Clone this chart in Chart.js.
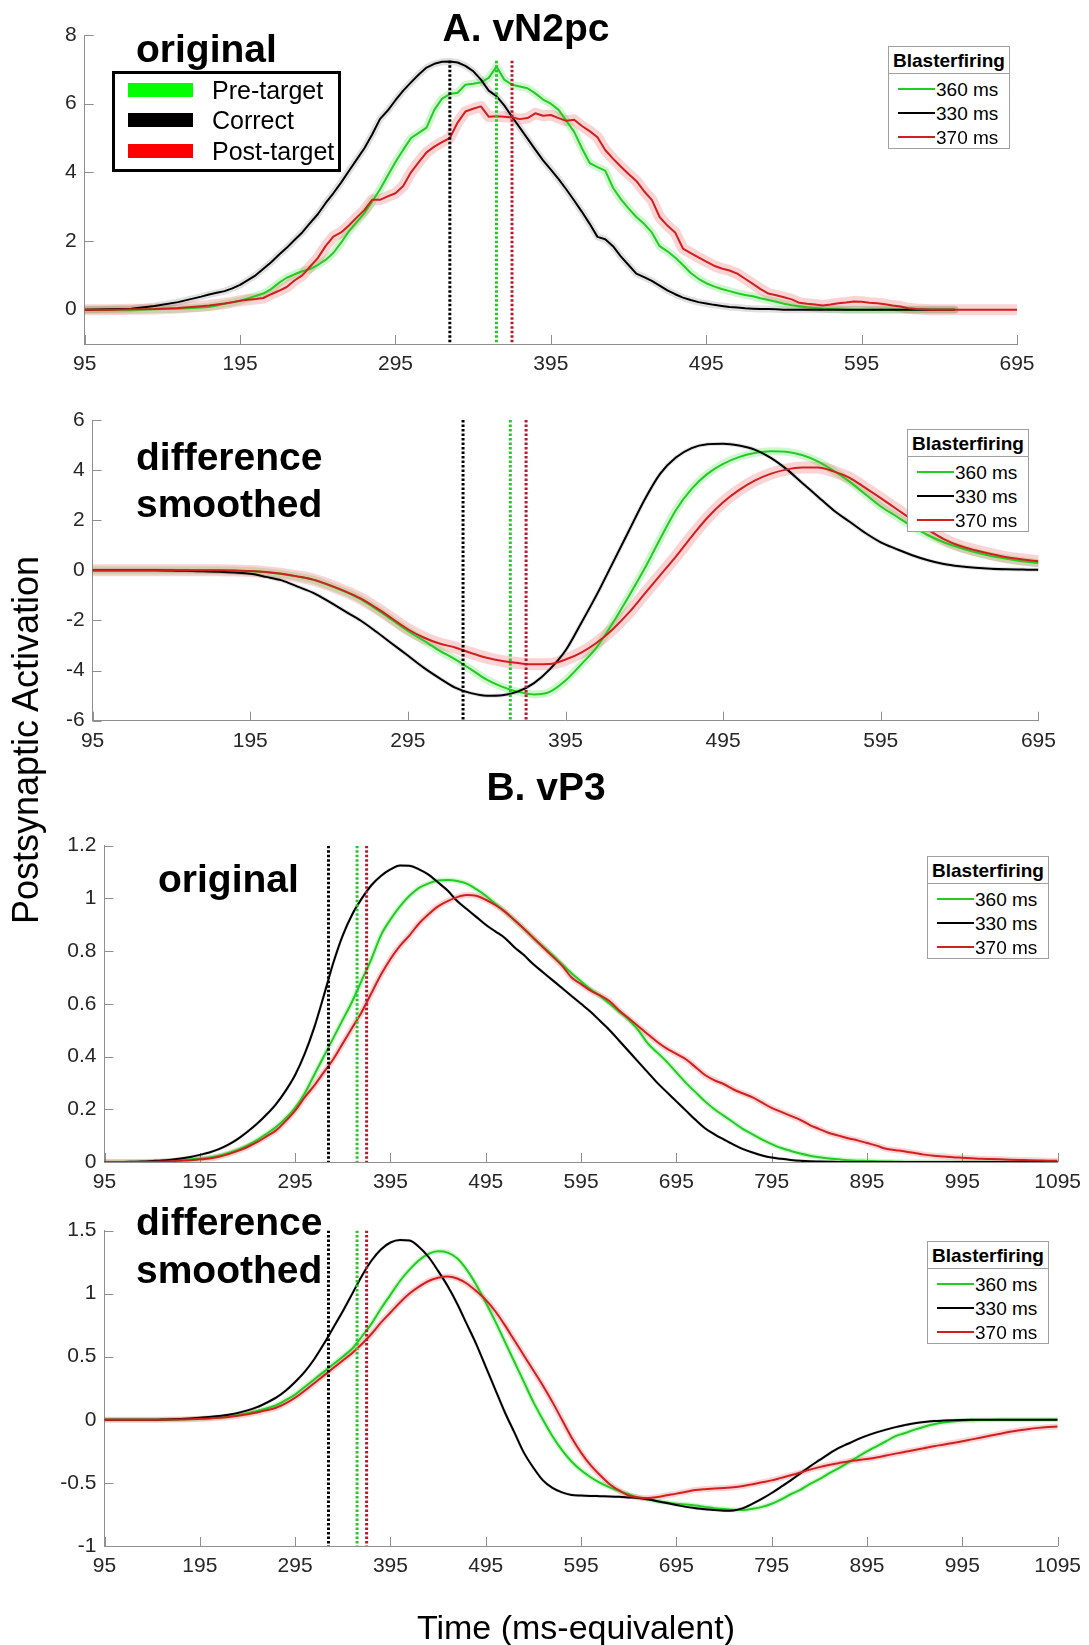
<!DOCTYPE html>
<html>
<head>
<meta charset="utf-8">
<script src="https://cdn.jsdelivr.net/npm/chart.js@4.4.1/dist/chart.umd.min.js"></script>
<style>
html,body{margin:0;padding:0;background:#fff;}
#wrap{position:relative;width:1089px;height:1645px;overflow:hidden;font-family:'Liberation Sans',Arial,sans-serif;color:#000;background:#fff;}
canvas{position:absolute;left:0;top:0;}
.txt{position:absolute;white-space:nowrap;line-height:1;}
.big{font-size:39px;font-weight:bold;}
.title{font-size:39px;font-weight:bold;text-align:center;width:400px;}
.bl{position:absolute;width:122px;height:103px;box-sizing:border-box;border:1px solid #a0a0a0;background:#fff;}
.bl .hd{position:absolute;left:0;top:0;width:120px;height:26px;border-bottom:1px solid #a0a0a0;font-weight:bold;font-size:19px;line-height:28px;text-align:center;}
.bl .row{position:absolute;left:0;width:120px;height:24px;font-size:19px;line-height:24px;}
.bl .row i{position:absolute;left:9px;top:11px;width:37px;height:2px;}
.bl .row span{position:absolute;left:47px;top:1px;}
.ol{position:absolute;left:112px;top:71px;width:229px;height:101px;box-sizing:border-box;border:3px solid #000;background:#fff;}
.ol .row{position:absolute;left:0;width:300px;height:30px;font-size:25px;line-height:30px;}
.ol .row i{position:absolute;left:13px;top:8px;width:65px;height:14px;}
.ol .row span{position:absolute;left:97px;top:0;}
</style>
</head>
<body>
<div id="wrap">
<canvas id="cA1" width="1089" height="1645"></canvas>
<canvas id="cA2" width="1089" height="1645"></canvas>
<canvas id="cB1" width="1089" height="1645"></canvas>
<canvas id="cB2" width="1089" height="1645"></canvas>

<div class="txt title" style="left:326px;top:8px;">A. vN2pc</div>
<div class="txt title" style="left:346px;top:767px;">B. vP3</div>
<div class="txt big" style="left:136px;top:29px;">original</div>
<div class="txt big" style="left:136px;top:437px;">difference</div>
<div class="txt big" style="left:136px;top:484px;">smoothed</div>
<div class="txt big" style="left:158px;top:859px;">original</div>
<div class="txt big" style="left:136px;top:1202px;">difference</div>
<div class="txt big" style="left:136px;top:1250px;">smoothed</div>
<div class="txt" style="left:376px;top:1610px;width:400px;text-align:center;font-size:34px;">Time (ms-equivalent)</div>
<div class="txt" style="left:-224px;top:722px;width:500px;height:36px;text-align:center;font-size:36px;line-height:36px;transform:rotate(-90deg);">Postsynaptic Activation</div>
<div id="legends"></div>
</div>

<script>
// ---------------- DATA ----------------
const markerTimes = [360, 330, 370];           // Blaster firing: green, black, red
const seriesLabels = ['360 ms', '330 ms', '370 ms'];
const conditionLabels = ['Pre-target', 'Correct', 'Post-target'];
const legendTitle = 'Blasterfiring';

const xTicksA = [95, 195, 295, 395, 495, 595, 695];
const xTicksB = [95, 195, 295, 395, 495, 595, 695, 795, 895, 995, 1095];
const yTicksA1 = [0, 2, 4, 6, 8];
const yTicksA2 = [-6, -4, -2, 0, 2, 4, 6];
const yTicksB1 = [0, 0.2, 0.4, 0.6, 0.8, 1, 1.2];
const yTicksB2 = [-1, -0.5, 0, 0.5, 1, 1.5];

// A. vN2pc original
const tA1 = [95,110,125,140,155,170,175,180,185,190,195,200,205,210,215,220,225,230,235,240,245,250,255,260,265,270,275,280,285,290,295,300,305,310,315,320,325,330,335,340,345,350,355,360,365,370,375,380,385,390,395,400,405,410,415,420,425,430,435,440,445,450,455,460,465,470,475,480,485,490,495,500,505,510,515,520,525,530,535,540,545,550,555,560,565,570,575,580,585,590,595,600,605,610,615,620,625,630,640,655,670,695];
const a1Green = [0,0,0,0.01,0.03,
0.06,0.08,0.12,0.17,0.21,0.26,0.33,0.4,0.47,0.6,0.78,0.93,1.03,1.12,1.18,1.3,1.45,1.65,1.95,2.28,2.55,2.81,3.15,3.5,3.9,4.3,4.66,5.0,5.15,5.3,5.82,6.15,6.28,6.32,6.55,6.58,6.62,6.75,7.08,6.7,6.55,6.5,6.45,6.3,6.12,6.0,5.82,5.5,5.18,4.7,4.27,4.15,4.05,3.55,3.22,2.95,2.7,2.5,2.25,1.85,1.7,1.52,1.3,1.07,0.9,0.77,0.68,0.6,0.54,0.48,0.43,0.39,0.33,0.28,0.23,0.17,0.13,0.1,0.07,0.05,0.03,0.02,0.01,0,0,0,0,0,0,0,0,0,0,
0,0,null,null];
const a1Black = [0,0.01,0.03,0.11,0.22,
0.38,0.44,0.49,0.54,0.62,0.72,0.86,1.0,1.19,1.38,1.6,1.8,2.03,2.25,2.52,2.78,3.1,3.39,3.7,4.04,4.37,4.7,5.1,5.55,5.8,6.1,6.38,6.62,6.85,7.05,7.16,7.22,7.23,7.2,7.1,6.95,6.7,6.38,6.22,5.95,5.62,5.3,4.98,4.66,4.35,4.08,3.8,3.5,3.18,2.85,2.5,2.12,2.05,1.85,1.55,1.3,1.05,0.95,0.84,0.7,0.56,0.45,0.35,0.28,0.22,0.18,0.14,0.11,0.08,0.06,0.04,0.03,0.02,0.02,0.01,0,0,0,0,0,0,0,0,0,0,0,0,0,0,0,0,0,0,
0,0,null,null];
const a1Red = [0,0,0.01,0.02,0.05,
0.1,0.12,0.15,0.18,0.22,0.26,0.29,0.31,0.34,0.45,0.55,0.66,0.85,1.0,1.25,1.5,1.85,2.13,2.25,2.45,2.68,2.9,3.2,3.2,3.3,3.39,3.6,4.0,4.3,4.58,4.75,4.88,5.0,5.45,5.77,5.85,5.92,5.62,5.63,5.62,5.6,5.55,5.58,5.72,5.65,5.67,5.58,5.5,5.53,5.35,5.2,5.02,4.65,4.4,4.17,3.95,3.75,3.45,3.2,2.7,2.45,2.25,1.78,1.65,1.52,1.4,1.28,1.2,1.14,1.05,0.9,0.75,0.6,0.47,0.42,0.36,0.3,0.2,0.17,0.15,0.12,0.15,0.19,0.21,0.24,0.23,0.2,0.19,0.16,0.12,0.09,0.04,0.02,
0,0,0,0];

// A. vN2pc difference smoothed
const tA2 = [95,105,115,125,135,145,155,165,175,185,195,205,215,225,235,245,255,265,275,285,295,305,315,325,335,345,355,365,375,385,395,405,415,425,435,445,455,465,475,485,495,505,515,525,535,545,555,565,575,585,595,605,615,625,635,645,655,665,675,685,695];
const a2Green = [0,0,0,0,0,0,0,0,0,-0.01,
-0.03,-0.08,-0.15,-0.25,-0.38,-0.6,-0.85,-1.15,-1.55,-1.98,
-2.42,-2.8,-3.2,-3.55,-3.95,-4.36,-4.65,-4.85,-4.95,-4.85,
-4.4,-3.75,-3.05,-2.1,-1.05,0.05,1.25,2.4,3.25,3.85,
4.25,4.52,4.68,4.75,4.73,4.6,4.35,3.98,3.55,3.05,
2.55,2.15,1.75,1.4,1.12,0.9,0.72,0.57,0.46,0.36,
0.29];
const a2Black = [0,0,0,0,0,-0.01,-0.02,-0.04,-0.06,-0.09,
-0.14,-0.26,-0.4,-0.65,-0.9,-1.25,-1.63,-2.0,-2.45,-2.93,
-3.4,-3.88,-4.3,-4.68,-4.9,-5.0,-4.98,-4.83,-4.5,-3.95,
-3.2,-2.1,-0.95,0.3,1.55,2.8,3.85,4.5,4.88,5.03,
5.05,4.98,4.82,4.5,4.05,3.5,2.95,2.4,1.95,1.5,
1.12,0.85,0.6,0.4,0.25,0.16,0.1,0.06,0.04,0.03,
0.02];
const a2Red = [0,0,0,0,0,0,0,0,0,-0.01,
-0.03,-0.07,-0.14,-0.24,-0.37,-0.58,-0.83,-1.12,-1.5,-1.92,
-2.35,-2.68,-2.92,-3.08,-3.3,-3.49,-3.62,-3.7,-3.75,-3.74,
-3.56,-3.28,-2.88,-2.35,-1.7,-0.95,-0.2,0.55,1.35,2.1,
2.72,3.2,3.58,3.85,4.02,4.1,4.1,3.95,3.7,3.3,
2.88,2.45,2.02,1.62,1.25,0.98,0.8,0.65,0.52,0.43,
0.36];

// B. vP3 (both panels)
const tB = [95,105,115,125,135,145,155,165,175,185,
195,205,215,225,235,245,255,265,275,285,
295,305,315,325,335,345,355,365,375,385,
395,405,415,425,435,445,455,465,475,485,
495,505,515,525,535,545,555,565,575,585,
595,605,615,625,635,645,655,665,675,685,
695,705,715,725,735,745,755,765,775,785,
795,805,815,825,835,845,855,865,875,885,
895,905,915,925,935,945,955,965,975,985,
995,1005,1015,1025,1035,1045,1055,1065,1075,1085,
1095];
const b1Green = [0,0,0,0,0.001,0.002,0.003,0.005,0.007,0.01,
0.013,0.017,0.024,0.034,0.047,0.063,0.083,0.107,0.133,0.165,
0.205,0.26,0.33,0.4,0.47,0.54,0.61,0.69,0.77,0.86,
0.92,0.97,1.01,1.04,1.057,1.068,1.07,1.066,1.056,1.035,
1.01,0.98,0.95,0.918,0.885,0.85,0.818,0.785,0.75,0.716,
0.685,0.655,0.63,0.6,0.57,0.54,0.5,0.45,0.415,0.38,
0.34,0.3,0.265,0.23,0.2,0.175,0.15,0.125,0.105,0.085,
0.068,0.053,0.042,0.032,0.024,0.018,0.013,0.01,0.007,0.005,
0.004,0.003,0.002,0.001,0,0,0,0,0,0,
0,0,0,0,0,0,0,0,0,0,
0];
const b1Black = [0,0,0,0.001,0.002,0.004,0.006,0.009,0.013,0.019,
0.027,0.036,0.049,0.066,0.088,0.115,0.145,0.18,0.22,0.27,
0.33,0.41,0.51,0.63,0.755,0.86,0.94,1.0,1.05,1.085,
1.11,1.125,1.124,1.11,1.09,1.06,1.03,0.99,0.96,0.93,
0.9,0.875,0.85,0.815,0.785,0.75,0.72,0.69,0.66,0.63,
0.6,0.57,0.535,0.5,0.46,0.42,0.38,0.34,0.3,0.265,
0.23,0.195,0.16,0.128,0.105,0.085,0.066,0.049,0.036,0.025,
0.017,0.012,0.008,0.005,0.003,0.002,0.001,0,0,0,
0,0,0,0,0,0,0,0,0,0,
0,0,0,0,0,0,0,0,0,0,
0];
const b1Red = [0,0,0,0,0,0.001,0.002,0.003,0.005,0.007,
0.01,0.013,0.02,0.03,0.042,0.057,0.075,0.097,0.12,0.155,
0.195,0.245,0.29,0.34,0.39,0.45,0.51,0.57,0.64,0.71,
0.77,0.82,0.86,0.905,0.94,0.97,0.99,1.005,1.013,1.01,
0.995,0.975,0.95,0.918,0.885,0.85,0.815,0.78,0.745,0.7,
0.675,0.65,0.632,0.61,0.575,0.545,0.515,0.485,0.455,0.43,
0.41,0.39,0.36,0.33,0.31,0.295,0.275,0.26,0.245,0.225,
0.205,0.19,0.175,0.16,0.14,0.125,0.11,0.1,0.09,0.082,
0.072,0.062,0.05,0.045,0.04,0.034,0.028,0.024,0.021,0.018,
0.016,0.014,0.012,0.011,0.01,0.009,0.008,0.007,0.006,0.005,
0.005];
const b2Green = [0,0,0,0,0,0,0,0.002,0.004,0.006,
0.009,0.013,0.019,0.027,0.038,0.052,0.07,0.09,0.115,0.155,
0.2,0.26,0.32,0.38,0.44,0.5,0.565,0.66,0.76,0.88,
0.99,1.1,1.19,1.265,1.315,1.335,1.325,1.28,1.19,1.07,
0.93,0.78,0.62,0.46,0.3,0.14,0.0,-0.13,-0.24,-0.33,
-0.4,-0.455,-0.5,-0.535,-0.565,-0.59,-0.615,-0.632,-0.645,-0.655,
-0.665,-0.672,-0.68,-0.69,-0.7,-0.707,-0.712,-0.714,-0.705,-0.69,
-0.665,-0.63,-0.59,-0.555,-0.51,-0.47,-0.425,-0.385,-0.34,-0.295,
-0.25,-0.21,-0.17,-0.13,-0.105,-0.078,-0.055,-0.036,-0.022,-0.013,
-0.007,-0.004,-0.002,-0.001,0,0,0,0,0,0,
0];
const b2Black = [0,0,0,0,0,0,0.002,0.004,0.007,0.011,
0.016,0.022,0.03,0.04,0.055,0.075,0.1,0.135,0.175,0.23,
0.3,0.38,0.48,0.6,0.73,0.86,1.0,1.14,1.26,1.35,
1.405,1.425,1.42,1.37,1.29,1.18,1.06,0.92,0.76,0.6,
0.42,0.24,0.06,-0.1,-0.26,-0.38,-0.48,-0.54,-0.575,-0.595,
-0.6,-0.603,-0.605,-0.607,-0.61,-0.615,-0.62,-0.63,-0.645,-0.66,
-0.675,-0.69,-0.7,-0.708,-0.714,-0.72,-0.718,-0.7,-0.665,-0.625,
-0.58,-0.53,-0.48,-0.425,-0.37,-0.32,-0.27,-0.225,-0.19,-0.155,
-0.125,-0.1,-0.078,-0.058,-0.042,-0.028,-0.017,-0.01,-0.006,-0.003,
-0.001,0,0,0,0,0,0,0,0,0,
0];
const b2Red = [0,0,0,0,0,0,0.001,0.002,0.003,0.005,
0.008,0.011,0.016,0.023,0.032,0.044,0.058,0.075,0.095,0.13,
0.175,0.23,0.29,0.35,0.41,0.47,0.53,0.6,0.68,0.77,
0.85,0.93,1.0,1.055,1.1,1.125,1.136,1.12,1.08,1.02,
0.95,0.86,0.75,0.63,0.51,0.39,0.27,0.14,0.0,-0.14,
-0.26,-0.36,-0.44,-0.51,-0.56,-0.6,-0.615,-0.62,-0.612,-0.598,
-0.585,-0.57,-0.557,-0.55,-0.545,-0.54,-0.535,-0.525,-0.51,-0.495,
-0.48,-0.46,-0.44,-0.418,-0.395,-0.375,-0.358,-0.344,-0.33,-0.32,
-0.31,-0.298,-0.283,-0.268,-0.254,-0.24,-0.225,-0.21,-0.197,-0.183,
-0.17,-0.155,-0.14,-0.125,-0.11,-0.095,-0.083,-0.072,-0.064,-0.058,
-0.053];

// ---------------- STYLE ----------------
const W = 1089, H = 1645;
const FONT = "'Liberation Sans', Arial, sans-serif";
const AXIS = '#8f8f8f', TICKTXT = '#262626';
const LINE = ['#22cc22', '#000000', '#d11f1f'];
const BAND = ['rgba(40,215,40,0.22)', 'rgba(0,0,0,0.12)', 'rgba(230,40,40,0.2)'];
const DOT = ['#2bc42b', '#000000', '#b8182c'];
const SWATCH = ['#00ff00', '#000000', '#ff0000'];
const DRAW_ORDER = [3, 2, 1]; // red on top
const YBOX = 70, XBOX = 50;   // space reserved for tick labels

Chart.defaults.font.family = FONT;

const inTicks = {
  id: 'inTicks',
  beforeDatasetsDraw(chart) {
    const {ctx, chartArea: a, scales: {x, y}} = chart;
    const len = 9;
    ctx.save();
    ctx.strokeStyle = AXIS; ctx.lineWidth = 1;
    ctx.beginPath();
    x.ticks.forEach(t => { const p = Math.round(x.getPixelForValue(t.value)) + 0.5; ctx.moveTo(p, a.bottom); ctx.lineTo(p, a.bottom - len); });
    y.ticks.forEach(t => { const p = Math.round(y.getPixelForValue(t.value)) + 0.5; ctx.moveTo(a.left, p); ctx.lineTo(a.left + len, p); });
    ctx.stroke();
    ctx.restore();
  }
};

function xy(t, y) { return t.map((x, i) => ({x: x, y: y[i]})); }

const panels = [
  {id: 'cA1', area: [84.7, 35, 1017, 344], t: tA1, ys: [a1Green, a1Black, a1Red], xMin: 95, xMax: 695, xTicks: xTicksA, yMin: -1, yMax: 8, yTicks: yTicksA1, smooth: false, markTop: 7.25, bandW: [8, 7, 11]},
  {id: 'cA2', area: [92.6, 420, 1038.4, 720.7], t: tA2, ys: [a2Green, a2Black, a2Red], xMin: 95, xMax: 695, xTicks: xTicksA, yMin: -6, yMax: 6, yTicks: yTicksA2, smooth: true, markTop: 6, bandW: [8, 4, 12]},
  {id: 'cB1', area: [104.5, 845.7, 1059.3, 1162], t: tB, ys: [b1Green, b1Black, b1Red], xMin: 95, xMax: 1095, xTicks: xTicksB, yMin: 0, yMax: 1.2, yTicks: yTicksB1, smooth: true, markTop: 1.2, bandW: [5, 3, 6]},
  {id: 'cB2', area: [104.5, 1230.5, 1059.3, 1546], t: tB, ys: [b2Green, b2Black, b2Red], xMin: 95, xMax: 1095, xTicks: xTicksB, yMin: -1, yMax: 1.5, yTicks: yTicksB2, smooth: true, markTop: 1.5, bandW: [5, 3, 6]}
];

panels.forEach(p => {
  const datasets = [];
  p.ys.forEach((y, i) => {
    datasets.push({
      data: xy(p.t, y), borderColor: BAND[i], borderWidth: p.bandW[i], pointRadius: 0,
      tension: 0, cubicInterpolationMode: p.smooth ? 'monotone' : 'default',
      borderJoinStyle: 'round', borderCapStyle: 'round', order: 10 + DRAW_ORDER[i]
    });
  });
  p.ys.forEach((y, i) => {
    datasets.push({
      label: seriesLabels[i], data: xy(p.t, y), borderColor: LINE[i], borderWidth: 2, pointRadius: 0,
      tension: 0, cubicInterpolationMode: p.smooth ? 'monotone' : 'default',
      borderJoinStyle: 'round', order: DRAW_ORDER[i]
    });
  });
  markerTimes.forEach((m, i) => {
    datasets.push({
      data: [{x: m, y: p.markTop}, {x: m, y: p.yMin}], borderColor: DOT[i], borderWidth: 3,
      borderDash: [2.5, 2], borderCapStyle: 'butt', pointRadius: 0, order: 0
    });
  });
  const a = p.area;
  new Chart(document.getElementById(p.id), {
    type: 'line',
    data: {datasets},
    plugins: [inTicks],
    options: {
      responsive: false, animation: false, devicePixelRatio: 1,
      layout: {padding: {left: a[0] - YBOX, top: a[1], right: W - a[2], bottom: H - a[3] - XBOX}},
      plugins: {legend: {display: false}, tooltip: {enabled: false}},
      events: [],
      scales: {
        x: {
          type: 'linear', min: p.xMin, max: p.xMax,
          afterFit: s => { s.height = XBOX; },
          afterBuildTicks: s => { s.ticks = p.xTicks.map(v => ({value: v})); },
          grid: {display: false, drawTicks: false, tickLength: 0},
          border: {display: true, color: AXIS, width: 1},
          ticks: {color: TICKTXT, font: {size: 21}, padding: 8, maxRotation: 0, minRotation: 0, autoSkip: false, callback: v => String(v)}
        },
        y: {
          type: 'linear', min: p.yMin, max: p.yMax,
          afterFit: s => { s.width = YBOX; },
          afterBuildTicks: s => { s.ticks = p.yTicks.map(v => ({value: v})); },
          grid: {display: false, drawTicks: false, tickLength: 0},
          border: {display: true, color: AXIS, width: 1},
          ticks: {color: TICKTXT, font: {size: 21}, padding: 8, autoSkip: false, callback: v => String(v)}
        }
      }
    }
  });
});

// ---------------- LEGENDS ----------------
const legHost = document.getElementById('legends');
[[888, 46], [907, 429], [927, 856], [927, 1241]].forEach(pos => {
  const box = document.createElement('div');
  box.className = 'bl';
  box.style.left = pos[0] + 'px'; box.style.top = pos[1] + 'px';
  const hd = document.createElement('div'); hd.className = 'hd'; hd.textContent = legendTitle; box.appendChild(hd);
  seriesLabels.forEach((lab, i) => {
    const r = document.createElement('div'); r.className = 'row'; r.style.top = (30 + 24 * i) + 'px';
    const sw = document.createElement('i'); sw.style.background = LINE[i]; r.appendChild(sw);
    const sp = document.createElement('span'); sp.textContent = lab; r.appendChild(sp);
    box.appendChild(r);
  });
  legHost.appendChild(box);
});
const ol = document.createElement('div'); ol.className = 'ol';
conditionLabels.forEach((lab, i) => {
  const r = document.createElement('div'); r.className = 'row'; r.style.top = [1, 31, 62][i] + 'px';
  const sw = document.createElement('i'); sw.style.background = SWATCH[i]; r.appendChild(sw);
  const sp = document.createElement('span'); sp.textContent = lab; r.appendChild(sp);
  ol.appendChild(r);
});
legHost.appendChild(ol);
</script>
</body>
</html>
